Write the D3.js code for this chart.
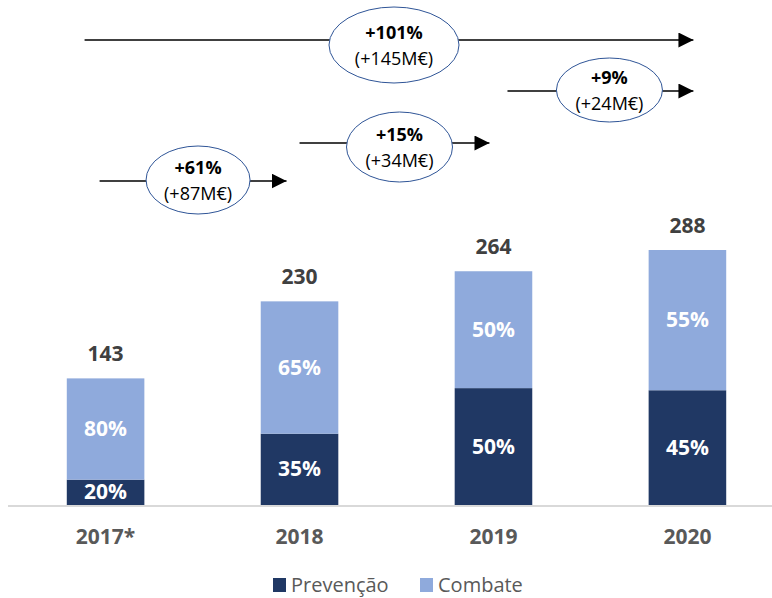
<!DOCTYPE html>
<html>
<head>
<meta charset="utf-8">
<script src="https://cdn.jsdelivr.net/npm/d3@7"></script>
<style>
  body { margin: 0; background: #fff; }
  svg { font-family: "Open Sans", "Noto Sans", sans-serif; display: block; }
</style>
</head>
<body>
<svg width="772" height="598"></svg>
<script>
// Chart data
var years = ["2017*", "2018", "2019", "2020"];
var totals = [143, 230, 264, 288];
var prevencaoPct = [20, 35, 50, 45];
var combatePct = [80, 65, 50, 55];

// Growth annotations (from year index -> to year index)
var growthFrom = [0, 1, 2, 0];
var growthTo = [1, 2, 3, 3];
var growthPct = ["+61%", "+15%", "+9%", "+101%"];
var growthAbs = ["(+87M€)", "(+34M€)", "(+24M€)", "(+145M€)"];

var legendLabels = ["Prevenção", "Combate"];
var colors = { prev: "#203864", comb: "#8faadc" };

var svg = d3.select("svg");

// Scales
var xScale = d3.scaleBand()
  .domain(years)
  .range([28, 765])
  .paddingInner(0.6)
  .paddingOuter(0.2);

var yScale = d3.scaleLinear()
  .domain([0, 288])
  .range([505, 250]);

// Stacked values in M€
var stackData = years.map(function (y, i) {
  var prev = totals[i] * prevencaoPct[i] / 100;
  return { year: y, total: totals[i], prev: prev, pp: prevencaoPct[i], cp: combatePct[i] };
});

var bars = svg.append("g");

// Prevenção (bottom)
bars.selectAll(".prev")
  .data(stackData)
  .enter()
  .append("rect")
  .attr("x", d => xScale(d.year))
  .attr("y", d => yScale(d.prev))
  .attr("width", xScale.bandwidth())
  .attr("height", d => yScale(0) - yScale(d.prev))
  .attr("fill", colors.prev);

// Combate (top)
bars.selectAll(".comb")
  .data(stackData)
  .enter()
  .append("rect")
  .attr("x", d => xScale(d.year))
  .attr("y", d => yScale(d.total))
  .attr("width", xScale.bandwidth())
  .attr("height", d => yScale(d.prev) - yScale(d.total))
  .attr("fill", colors.comb);

// Baseline
svg.append("line")
  .attr("x1", 8).attr("x2", 772)
  .attr("y1", yScale(0) + 1).attr("y2", yScale(0) + 1)
  .attr("stroke", "#d9d9d9")
  .attr("stroke-width", 2);

// Segment labels
var cx = d => xScale(d.year) + xScale.bandwidth() / 2;
bars.selectAll(".prevLbl")
  .data(stackData)
  .enter()
  .append("text")
  .attr("x", cx)
  .attr("y", d => (yScale(0) + yScale(d.prev)) / 2 + 7)
  .attr("text-anchor", "middle")
  .attr("fill", "#fff")
  .style("font-size", "21px")
  .style("font-weight", "bold")
  .text(d => d.pp + "%");

bars.selectAll(".combLbl")
  .data(stackData)
  .enter()
  .append("text")
  .attr("x", cx)
  .attr("y", d => (yScale(d.prev) + yScale(d.total)) / 2 + 7)
  .attr("text-anchor", "middle")
  .attr("fill", "#fff")
  .style("font-size", "21px")
  .style("font-weight", "bold")
  .text(d => d.cp + "%");

// Totals
bars.selectAll(".totLbl")
  .data(stackData)
  .enter()
  .append("text")
  .attr("x", cx)
  .attr("y", d => yScale(d.total) - 17)
  .attr("text-anchor", "middle")
  .attr("fill", "#404040")
  .style("font-size", "21px")
  .style("font-weight", "bold")
  .text(d => d.total);

// Year labels
svg.selectAll(".yearLbl")
  .data(years)
  .enter()
  .append("text")
  .attr("x", d => xScale(d) + xScale.bandwidth() / 2)
  .attr("y", 544)
  .attr("text-anchor", "middle")
  .attr("fill", "#595959")
  .style("font-size", "21px")
  .style("font-weight", "bold")
  .text(d => d);

// Growth arrows
var rowY = [181, 143, 91, 40];
var startOff = [-6, 0, 14, -21];
var endOff = [-13, -4, 6, 6];
var ellR = [[52, 34], [53, 35], [53, 32], [65, 38]];
var ellShift = [5, 5, 9, 5];
var ellDy = [-1, 4, -1, 5];

var defs = svg.append("defs");
defs.append("marker")
  .attr("id", "arr")
  .attr("viewBox", "0 0 10 10")
  .attr("refX", 10).attr("refY", 5)
  .attr("markerWidth", 15).attr("markerHeight", 15)
  .attr("markerUnits", "userSpaceOnUse")
  .attr("orient", "auto")
  .append("path")
  .attr("d", "M0,0L10,5L0,10Z")
  .attr("fill", "#000");

var center = i => xScale(years[i]) + xScale.bandwidth() / 2;

growthPct.forEach(function (p, i) {
  var x1 = center(growthFrom[i]) + startOff[i];
  var x2 = center(growthTo[i]) + endOff[i];
  var y = rowY[i];
  var g = svg.append("g");
  g.append("line")
    .attr("x1", x1).attr("x2", x2)
    .attr("y1", y).attr("y2", y)
    .attr("stroke", "#000")
    .attr("stroke-width", 1.5)
    .attr("marker-end", "url(#arr)");
  var ex = (x1 + x2) / 2 + ellShift[i];
  var ey = y + ellDy[i];
  g.append("ellipse")
    .attr("cx", ex).attr("cy", ey)
    .attr("rx", ellR[i][0]).attr("ry", ellR[i][1])
    .attr("fill", "#fff")
    .attr("stroke", "#2f5597")
    .attr("stroke-width", 1);
  g.append("text")
    .attr("x", ex).attr("y", ey - 6)
    .attr("text-anchor", "middle")
    .style("font-size", "18px")
    .style("font-weight", "bold")
    .attr("fill", "#000")
    .text(p);
  g.append("text")
    .attr("x", ex).attr("y", ey + 20)
    .attr("text-anchor", "middle")
    .style("font-size", "18px")
    .attr("fill", "#000")
    .text(growthAbs[i]);
});

// Legend
var legendX = [273, 420];
var legendColors = [colors.prev, colors.comb];
var legend = svg.append("g");
legendLabels.forEach(function (l, i) {
  legend.append("rect")
    .attr("x", legendX[i]).attr("y", 578)
    .attr("width", 13).attr("height", 14)
    .attr("fill", legendColors[i]);
  legend.append("text")
    .attr("x", legendX[i] + 18).attr("y", 592)
    .attr("fill", "#595959")
    .style("font-size", "20px")
    .text(l);
});
</script>
</body>
</html>
